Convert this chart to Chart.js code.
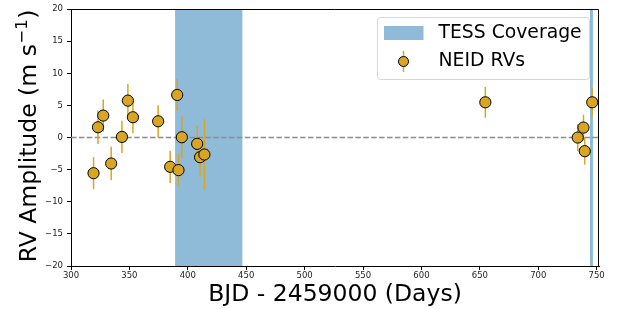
<!DOCTYPE html>
<html><head><meta charset="utf-8">
<script src="https://cdn.jsdelivr.net/npm/chart.js@4.4.1/dist/chart.umd.min.js"></script>
<style>html,body{margin:0;padding:0;background:#fff}canvas{display:block}</style>
</head><body>
<canvas id="c" width="620" height="309"></canvas>
<script>
// ---- data ----
const days = [319.3, 323.1, 327.6, 334.4, 343.6, 348.7, 353.0, 374.6, 384.9, 390.9, 392.0, 394.9, 408.0, 410.5, 414.2, 654.7, 733.8, 738.7, 739.8, 746.2];
const rvs  = [-5.55, 1.6, 3.42, -4.04, 0.1, 5.75, 3.16, 2.53, -4.56, 6.63, -5.07, 0.05, -0.98, -3.06, -2.64, 5.49, 0.0, 1.55, -2.12, 5.49];
const errs = [2.5, 2.6, 2.5, 2.6, 2.5, 2.6, 2.5, 2.5, 2.5, 2.5, 2.5, 3.3, 2.8, 3.0, 5.5, 2.4, 2.1, 2.0, 2.1, 2.2];
const tessStarts = [389.1, 744.3];
const tessEnds   = [446.7, 746.8];
const xTicks = [300, 350, 400, 450, 500, 550, 600, 650, 700, 750];
const yTicks = [-20, -15, -10, -5, 0, 5, 10, 15, 20];
const xRange = [300, 752];
const yRange = [-20, 20];
const zeroLine = [0, 0];
const xTitle = 'BJD - 2459000 (Days)';
const yTitleMain = 'RV Amplitude (m s';
const yTitleSup = '\u22121';
const yTitleEnd = ')';
const legendLabels = ['TESS Coverage', 'NEID RVs'];

const GOLD = '#daa520';
const BAND = 'rgba(31,119,180,0.5)';
const FONT = "'DejaVu Sans', sans-serif";

const bandPlugin = {
  id: 'bands',
  beforeDatasetsDraw(chart) {
    const {ctx, chartArea: a, scales: {x}} = chart;
    ctx.save();
    ctx.beginPath(); ctx.rect(a.left, a.top, a.right - a.left, a.bottom - a.top); ctx.clip();
    ctx.fillStyle = BAND;
    for (let i = 0; i < tessStarts.length; i++) {
      const l = x.getPixelForValue(tessStarts[i]);
      const r = x.getPixelForValue(tessEnds[i]);
      ctx.fillRect(l, a.top, r - l, a.bottom - a.top);
    }
    ctx.restore();
  }
};

const errPlugin = {
  id: 'errbars',
  beforeDatasetDraw(chart, args) {
    if (args.index !== 0) return;
    const {ctx, scales: {x, y}} = chart;
    ctx.save();
    ctx.strokeStyle = GOLD;
    ctx.lineWidth = 1.5;
    for (let i = 0; i < days.length; i++) {
      const px = x.getPixelForValue(days[i]);
      ctx.beginPath();
      ctx.moveTo(px, y.getPixelForValue(rvs[i] - errs[i]));
      ctx.lineTo(px, y.getPixelForValue(rvs[i] + errs[i]));
      ctx.stroke();
    }
    ctx.restore();
  }
};

const framePlugin = {
  id: 'frame',
  afterDraw(chart) {
    const {ctx, chartArea: a} = chart;
    ctx.save();
    ctx.strokeStyle = '#000';
    ctx.lineWidth = 1;
    ctx.beginPath();
    ctx.moveTo(Math.round(a.left) - 0.5, Math.round(a.top) + 0.5);
    ctx.lineTo(Math.round(a.right) - 0.5, Math.round(a.top) + 0.5);
    ctx.lineTo(Math.round(a.right) - 0.5, Math.round(a.bottom));
    ctx.stroke();
    // y title with superscript
    ctx.fillStyle = '#000';
    ctx.textBaseline = 'alphabetic';
    ctx.textAlign = 'left';
    const mainF = "23.5px " + FONT, supF = "16.5px " + FONT;
    ctx.font = mainF; const w1 = ctx.measureText(yTitleMain).width; const w3 = ctx.measureText(yTitleEnd).width;
    ctx.font = supF; const w2 = ctx.measureText(yTitleSup).width + 1;
    const total = w1 + w2 + w3;
    ctx.translate(36, 136);
    ctx.rotate(-Math.PI / 2);
    let xx = -total / 2;
    ctx.font = mainF; ctx.fillText(yTitleMain, xx, 0); xx += w1;
    ctx.font = supF; ctx.fillText(yTitleSup, xx + 0.5, -9); xx += w2;
    ctx.font = mainF; ctx.fillText(yTitleEnd, xx, 0);
    ctx.restore();
  }
};

const legendPlugin = {
  id: 'customLegend',
  afterDraw(chart) {
    const ctx = chart.ctx;
    ctx.save();
    const bx = 377.5, by = 17.5, bw = 212, bh = 62, r = 3;
    ctx.beginPath();
    ctx.moveTo(bx + r, by);
    ctx.arcTo(bx + bw, by, bx + bw, by + bh, r);
    ctx.arcTo(bx + bw, by + bh, bx, by + bh, r);
    ctx.arcTo(bx, by + bh, bx, by, r);
    ctx.arcTo(bx, by, bx + bw, by, r);
    ctx.closePath();
    ctx.fillStyle = 'rgba(255,255,255,0.8)';
    ctx.fill();
    ctx.strokeStyle = '#d6d6d6';
    ctx.lineWidth = 1;
    ctx.stroke();
    ctx.fillStyle = BAND;
    ctx.fillRect(384, 26, 39.5, 14);
    ctx.strokeStyle = GOLD; ctx.lineWidth = 1.5;
    ctx.beginPath(); ctx.moveTo(403.5, 51); ctx.lineTo(403.5, 72); ctx.stroke();
    ctx.beginPath(); ctx.arc(403.5, 61.5, 5, 0, Math.PI * 2);
    ctx.fillStyle = GOLD; ctx.fill();
    ctx.strokeStyle = '#000'; ctx.lineWidth = 1; ctx.stroke();
    ctx.fillStyle = '#000';
    ctx.font = "18.8px " + FONT;
    ctx.textBaseline = 'middle';
    ctx.textAlign = 'left';
    ctx.fillText(legendLabels[0], 438.5, 33.5);
    ctx.fillText(legendLabels[1], 438.5, 61.5);
    ctx.restore();
  }
};

const fmt = v => String(v).replace('-', '\u2212');

new Chart(document.getElementById('c'), {
  type: 'scatter',
  data: {
    datasets: [
      {
        data: days.map((d, i) => ({x: d, y: rvs[i]})),
        backgroundColor: GOLD,
        borderColor: '#000',
        borderWidth: 1,
        pointRadius: 5.6,
        pointHoverRadius: 5.6,
        order: 0
      },
      {
        type: 'line',
        data: xRange.map((d, i) => ({x: d, y: zeroLine[i]})),
        borderColor: '#8c8c8c',
        borderWidth: 1.5,
        borderDash: [5.5, 2.4],
        pointRadius: 0,
        fill: false,
        order: 1
      }
    ]
  },
  options: {
    responsive: false,
    animation: false,
    devicePixelRatio: 1,
    layout: {padding: {left: 0, right: 21, top: 8, bottom: 0}},
    plugins: {legend: {display: false}, tooltip: {enabled: false}},
    scales: {
      x: {
        type: 'linear', min: xRange[0], max: xRange[1],
        afterBuildTicks: s => { s.ticks = xTicks.map(v => ({value: v})); },
        afterFit: s => { s.height = 43; },
        grid: {display: true, drawOnChartArea: false, drawTicks: true, tickLength: 4, color: '#000'},
        border: {display: true, color: '#000', width: 1},
        ticks: {color: '#222', font: {family: FONT, size: 8.5}, padding: 1, maxRotation: 0, callback: v => fmt(v)},
        title: {display: true, text: xTitle, color: '#000', font: {family: FONT, size: 23.5, lineHeight: 1.2}, padding: {top: 0, bottom: 0}}
      },
      y: {
        type: 'linear', min: yRange[0], max: yRange[1],
        afterBuildTicks: s => { s.ticks = yTicks.map(v => ({value: v})); },
        afterFit: s => { s.width = 71; },
        grid: {display: true, drawOnChartArea: false, drawTicks: true, tickLength: 4, color: '#000'},
        border: {display: true, color: '#000', width: 1},
        ticks: {color: '#222', font: {family: FONT, size: 8.5}, padding: 4, callback: v => fmt(v)},
        title: {display: false}
      }
    }
  },
  plugins: [bandPlugin, errPlugin, framePlugin, legendPlugin]
});
</script>
</body></html>
